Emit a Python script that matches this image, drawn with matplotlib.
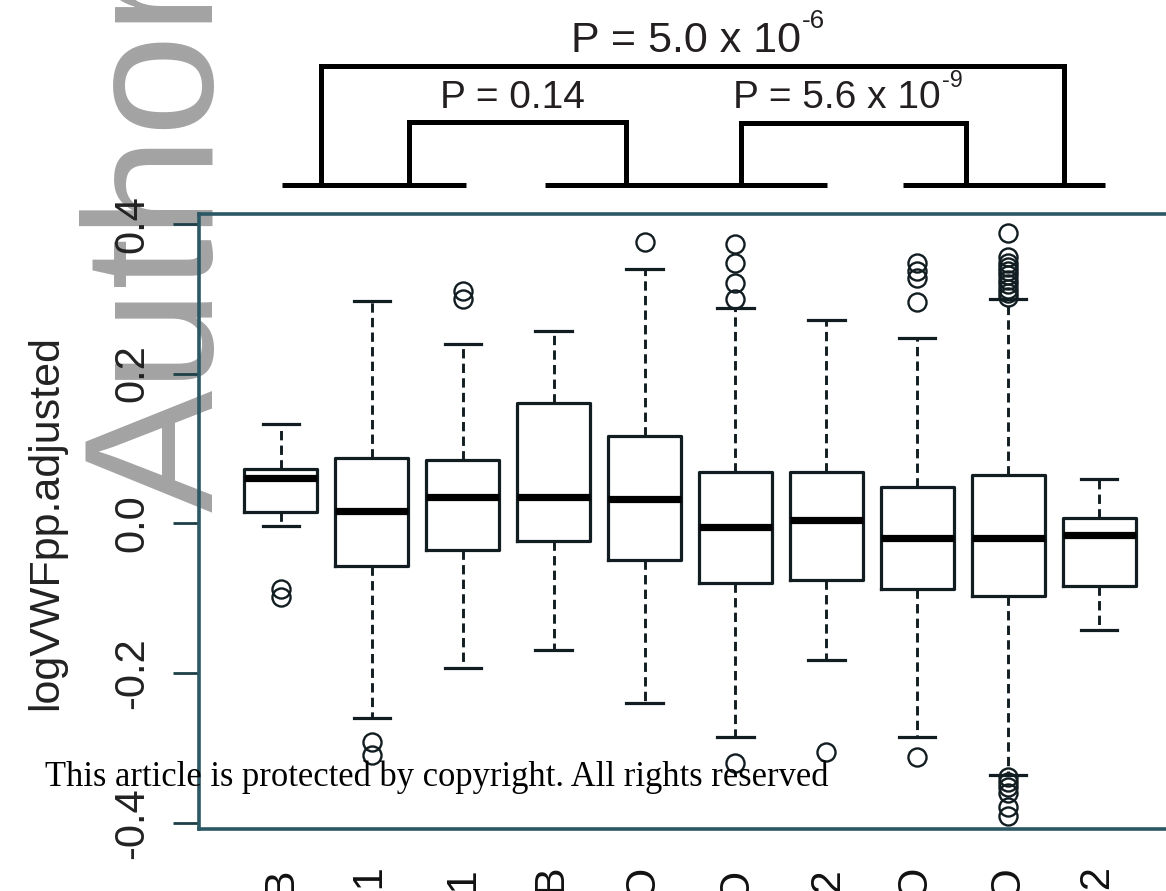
import matplotlib
matplotlib.use('Agg')
import matplotlib.pyplot as plt
from matplotlib.lines import Line2D

W, H = 1166, 891

# ABO genotype groups (only the tail of each label is visible in the source)
groups = ['BB', 'A1A1', 'BA1', 'A1B', 'A1O', 'BO', 'BA2', 'A2O', 'OO', 'A2A2']

# box statistics
whishi = [0.133, 0.297, 0.240, 0.257, 0.340, 0.288, 0.271, 0.247, 0.300, 0.059]
q3     = [0.073, 0.087, 0.084, 0.161, 0.116, 0.069, 0.068, 0.049, 0.064, 0.007]
med    = [0.060, 0.016, 0.035, 0.035, 0.033, -0.005, 0.005, -0.020, -0.020, -0.015]
q1     = [0.015, -0.057, -0.035, -0.023, -0.049, -0.079, -0.076, -0.087, -0.097, -0.084]
whislo = [-0.004, -0.260, -0.193, -0.169, -0.240, -0.285, -0.183, -0.285, -0.336, -0.143]

fliers = [
    [-0.088, -0.098],
    [-0.292, -0.309],
    [0.310, 0.300],
    [],
    [0.375],
    [0.373, 0.348, 0.321, 0.300, -0.320],
    [-0.305],
    [0.348, 0.337, 0.327, 0.295, -0.312],
    [0.387, 0.355, 0.348, 0.342, 0.337, 0.331, 0.325, 0.319, 0.313, 0.307, 0.302,
     -0.339, -0.345, -0.352, -0.360, -0.379, -0.390],
    [],
]

yticks = [-0.4, -0.2, 0.0, 0.2, 0.4]
ytick_labels = ['-0.4', '-0.2', '0.0', '0.2', '0.4']

# comparisons drawn above the plot: (base text, exponent)
p_texts = [('P = 5.0 x 10', '-6'), ('P = 0.14', ''), ('P = 5.6 x 10', '-9')]

plt.rcParams['font.family'] = ['Liberation Sans', 'DejaVu Sans']


def fx(x):
    return x / W


def fy(y):
    return 1 - y / H


fig = plt.figure(figsize=(W / 100, H / 100), dpi=100)
fig.patch.set_facecolor('white')

ax = fig.add_axes([fx(199), fy(829), (1181 - 199) / W, (829 - 214) / H])
ax.patch.set_alpha(0)

frame_col = '#2b5864'
line_col = '#111d21'

stats = []
for i in range(len(groups)):
    stats.append(dict(med=med[i], q1=q1[i], q3=q3[i], whislo=whislo[i],
                      whishi=whishi[i], fliers=fliers[i], label=groups[i]))

ax.bxp(stats, positions=range(1, len(groups) + 1), widths=0.8, capwidths=0.4,
       boxprops=dict(color=line_col, linewidth=2.3),
       medianprops=dict(color='black', linewidth=5.2, solid_capstyle='butt'),
       whiskerprops=dict(color=line_col, linewidth=2.1, linestyle=(0, (3.2, 1.8))),
       capprops=dict(color=line_col, linewidth=2.3),
       flierprops=dict(marker='o', markersize=13, markerfacecolor='none',
                       markeredgecolor=line_col, markeredgewidth=1.7, linestyle='none'))

ax.set_xlim(0.1, 10.9)
ax.set_ylim(-0.408, 0.413)

for s in ax.spines.values():
    s.set_color(frame_col)
    s.set_linewidth(2.6)

ax.set_yticks(yticks)
ax.set_yticklabels(ytick_labels, rotation=90, va='center')
ax.tick_params(axis='y', length=18.7, width=2.0, pad=15, labelsize=30,
               color='#1d3f48', labelcolor='#222222')
ax.set_xticks(range(1, len(groups) + 1))
ax.set_xticklabels(groups, rotation=90, va='top', ha='center')
ax.tick_params(axis='x', length=0, pad=27, labelsize=30, labelcolor='#111111')

# y axis title
fig.text(fx(57), fy(522), 'logVWFpp.adjusted', rotation=90, rotation_mode='anchor',
         ha='center', va='baseline', fontsize=31, color='#222222')

# watermark
fig.text(fx(213), fy(512), 'Author', rotation=90, rotation_mode='anchor',
         ha='left', va='baseline', fontsize=132, color='#a3a3a3', zorder=-1)

# significance brackets
def seg(xs, ys):
    fig.add_artist(Line2D([fx(v) for v in xs], [fy(v) for v in ys], color='black',
                          linewidth=3.6, solid_capstyle='butt', solid_joinstyle='miter'))

seg([282, 466], [185, 185])
seg([545, 827], [185, 185])
seg([903, 1105], [185, 185])
seg([321, 321, 1064, 1064], [185, 66, 66, 185])
seg([409, 409, 626, 626], [185, 122, 122, 185])
seg([741, 741, 966, 966], [185, 123, 123, 185])


def ptext(x, y, base, sup, size):
    t = fig.text(fx(x), fy(y), base, ha='left', va='baseline', fontsize=size, color='#231f20')
    if sup:
        fig.canvas.draw()
        x1 = t.get_window_extent().x1
        fig.text(x1 / W + 1 / W, fy(y) + size * 0.55 / 72 * 100 / H, sup, ha='left',
                 va='baseline', fontsize=size * 0.6, color='#231f20')


ptext(571, 52, p_texts[0][0], p_texts[0][1], 31)
ptext(440, 108, p_texts[1][0], p_texts[1][1], 28)
ptext(733, 108, p_texts[2][0], p_texts[2][1], 28)

# copyright notice, scaled to span the same width as the source
cp = fig.text(fx(45), fy(786), 'This article is protected by copyright. All rights reserved',
              ha='left', va='baseline', fontsize=24, color='black',
              family=['Liberation Serif', 'DejaVu Serif'], zorder=5)
fig.canvas.draw()
w = cp.get_window_extent().width
cp.set_fontsize(24 * 783 / w)

fig.savefig('out.png', dpi=100)
